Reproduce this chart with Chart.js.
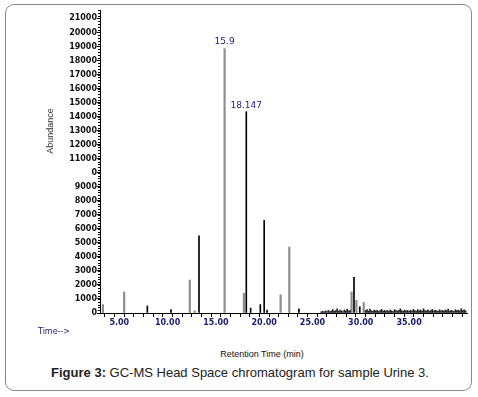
<!DOCTYPE html>
<html>
<head>
<meta charset="utf-8">
<script src="https://cdn.jsdelivr.net/npm/chart.js@4/dist/chart.umd.min.js"></script>
<style>
  html,body{margin:0;padding:0;background:#fff;}
  #wrap{position:relative;width:478px;height:397px;overflow:hidden;background:#fff;}
  #frame{position:absolute;left:5px;top:4px;width:467px;height:387px;border:1px solid #8a8a8a;border-radius:9px;box-sizing:border-box;}
  #cv{position:absolute;left:40px;top:0;}
  .t{position:absolute;white-space:nowrap;}
  #abund{left:50px;top:131px;transform:translate(-50%,-50%) rotate(-90deg);font:9px "Liberation Sans",Arial,sans-serif;color:#333;}
  #timearrow{left:38px;top:327px;font:8px "DejaVu Sans",Verdana,sans-serif;color:#1a1a80;}
  #rt{left:262px;top:349px;transform:translateX(-50%);font:9px "Liberation Sans",Arial,sans-serif;color:#111;}
  #cap{left:240px;top:365px;transform:translateX(-50%);font:13px "Liberation Sans",Arial,sans-serif;color:#222;}
</style>
</head>
<body>
<div id="wrap">
  <div id="frame"></div>
  <canvas id="cv" width="435" height="335"></canvas>
  <div class="t" id="abund">Abundance</div>
  <div class="t" id="timearrow">Time--&gt;</div>
  <div class="t" id="rt">Retention Time (min)</div>
  <div class="t" id="cap"><b>Figure 3:</b> GC-MS Head Space chromatogram for sample Urine 3.</div>
</div>
<script>
// Retention times (min) and abundances
const darkTimes  = [7.9, 10.35, 13.25, 18.147, 18.6, 19.6, 20.0, 20.3, 23.6, 29.3, 29.9];
const darkValues = [500, 250, 5500, 14350, 350, 600, 6600, 200, 300, 2550, 450];

const grayTimes  = [3.3, 5.5, 12.3, 12.8, 15.9, 17.9, 21.7, 22.6, 29.05, 29.55, 30.3];
const grayValues = [600, 1500, 2350, 150, 18850, 1400, 1300, 4700, 1500, 900, 750];

const noiseTimes  = [25.9, 26.05, 26.2, 26.35, 26.5, 26.65, 26.8, 26.95, 27.1, 27.25, 27.4, 27.55, 27.7, 27.85, 28.0, 28.15, 28.3, 28.45, 28.6, 28.75, 28.9, 30.5, 30.65, 30.8, 30.95, 31.1, 31.25, 31.4, 31.55, 31.7, 31.85, 32.0, 32.15, 32.3, 32.45, 32.6, 32.75, 32.9, 33.05, 33.2, 33.35, 33.5, 33.65, 33.8, 33.95, 34.1, 34.25, 34.4, 34.55, 34.7, 34.85, 35.0, 35.15, 35.3, 35.45, 35.6, 35.75, 35.9, 36.05, 36.2, 36.35, 36.5, 36.65, 36.8, 36.95, 37.1, 37.25, 37.4, 37.55, 37.7, 37.85, 38.0, 38.15, 38.3, 38.45, 38.6, 38.75, 38.9, 39.05, 39.2, 39.35, 39.5, 39.65, 39.8, 39.95, 40.1, 40.25, 40.4, 40.55, 40.7, 40.85];
const noiseValues = [90, 120, 80, 150, 110, 180, 100, 140, 250, 120, 170, 300, 130, 200, 160, 110, 220, 150, 280, 130, 190, 180, 240, 140, 280, 160, 120, 210, 150, 190, 110, 170, 260, 140, 200, 130, 180, 120, 220, 150, 110, 240, 170, 140, 190, 300, 160, 130, 210, 150, 180, 120, 200, 140, 260, 170, 130, 250, 160, 210, 140, 300, 180, 150, 220, 130, 170, 260, 140, 200, 160, 120, 230, 150, 180, 140, 210, 170, 280, 130, 190, 150, 120, 240, 170, 200, 140, 300, 180, 220, 160];

const peakLabelTimes  = [15.9, 18.147];
const peakLabelValues = [18850, 14350];
const peakLabelTexts  = ['15.9', '18.147'];

const xLabelTimes = [5, 10, 15, 20, 25, 30, 35];
const yTickLabels = ['0','1000','2000','3000','4000','5000','6000','7000','8000','9000','0','11000','12000','13000','14000','15000','16000','17000','18000','19000','20000','21000'];

const pts = (xs, ys) => xs.map((x, i) => ({x: x, y: ys[i]}));

const minorTicks = {
  id: 'minorTicks',
  afterDraw(chart) {
    const {ctx} = chart;
    const y = chart.scales.y, x = chart.scales.x;
    ctx.save();
    ctx.strokeStyle = '#000';
    ctx.lineWidth = 1;
    ctx.beginPath();
    for (let v = 0; v <= y.max; v += 200) {
      const py = Math.round(y.getPixelForValue(v)) + 0.5;
      ctx.moveTo(x.left - 2, py);
      ctx.lineTo(x.left, py);
    }
    ctx.stroke();
    // peak labels
    ctx.fillStyle = '#22228a';
    ctx.font = '9px "DejaVu Sans", Verdana, sans-serif';
    ctx.textAlign = 'center';
    ctx.textBaseline = 'bottom';
    peakLabelTimes.forEach((t, i) => {
      const px = x.getPixelForValue(t);
      const py = y.getPixelForValue(peakLabelValues[i]);
      ctx.fillText(peakLabelTexts[i], px, py - 2);
    });
    ctx.restore();
  }
};

new Chart(document.getElementById('cv'), {
  type: 'bar',
  data: {
    datasets: [
      {data: pts(noiseTimes, noiseValues), backgroundColor: '#222', barThickness: 1, grouped: false},
      {data: pts(grayTimes, grayValues), backgroundColor: '#8c8c8c', barThickness: 1.5, grouped: false},
      {data: pts(darkTimes, darkValues), backgroundColor: '#000', barThickness: 1, grouped: false}
    ]
  },
  options: {
    responsive: false,
    animation: false,
    layout: {padding: {left: 0, right: 8, top: 10, bottom: 2}},
    plugins: {legend: {display: false}, tooltip: {enabled: false}},
    scales: {
      x: {
        type: 'linear', min: 3, max: 41, offset: false,
        afterFit(s) { s.height = 20; },
        border: {display: true, color: '#000', width: 1},
        grid: {display: true, drawOnChartArea: false, drawTicks: true, tickLength: 4, color: '#000'},
        ticks: {
          stepSize: 1, autoSkip: false, maxRotation: 0, padding: 1,
          color: '#1a1a70',
          font: {family: '"DejaVu Sans", Verdana, sans-serif', size: 8, weight: 'bold'},
          callback: (v) => (xLabelTimes.includes(v) ? Number(v).toFixed(2) : '')
        }
      },
      y: {
        min: 0, max: 21600,
        afterFit(s) { s.width = 60; },
        afterBuildTicks(s) {
          s.ticks = yTickLabels.map((_, i) => ({value: i * 1000}));
        },
        border: {display: true, color: '#000', width: 1},
        grid: {display: true, drawOnChartArea: false, drawTicks: true, tickLength: 3, color: '#000'},
        ticks: {
          autoSkip: false, padding: 0,
          color: '#111',
          font: {family: '"DejaVu Sans", Verdana, sans-serif', size: 8, weight: 'bold'},
          callback: (v, i) => yTickLabels[i]
        }
      }
    }
  },
  plugins: [minorTicks]
});
</script>
</body>
</html>
